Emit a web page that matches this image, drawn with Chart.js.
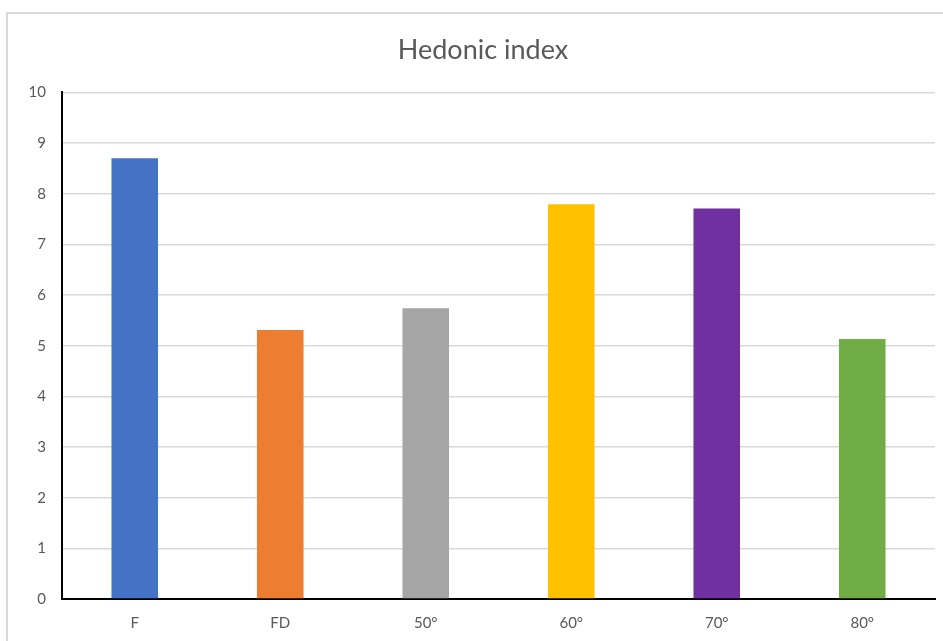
<!DOCTYPE html>
<html>
<head>
<meta charset="utf-8">
<script src="https://cdn.jsdelivr.net/npm/chart.js@4"></script>
<style>
  html, body { margin: 0; padding: 0; background: #fff; overflow: hidden; }
  #frame {
    position: absolute; left: 6px; top: 12px;
    width: 960px; height: 660px;
    border: 2px solid #d9d9d9; box-sizing: border-box;
  }
  #chart { position: absolute; left: 8px; top: 14px; }
</style>
</head>
<body>
<div id="frame"></div>
<canvas id="chart" width="950" height="640"></canvas>
<script>
const categories = ["F", "FD", "50°", "60°", "70°", "80°"];
const values = [8.7, 5.31, 5.74, 7.79, 7.71, 5.13];
const barColors = ["#4472C4", "#ED7D31", "#A5A5A5", "#FFC000", "#7030A0", "#70AD47"];
const yTicks = [0, 1, 2, 3, 4, 5, 6, 7, 8, 9, 10];

const fontFamily = "Lato, 'Open Sans', sans-serif";

new Chart(document.getElementById("chart"), {
  type: "bar",
  data: {
    labels: categories,
    datasets: [{
      label: "Hedonic index",
      data: values,
      backgroundColor: barColors,
      borderWidth: 0,
      categoryPercentage: 1,
      barPercentage: 0.32
    }]
  },
  options: {
    responsive: false,
    animation: false,
    layout: { padding: 0 },
    plugins: {
      legend: { display: false },
      tooltip: { enabled: false },
      title: {
        display: true,
        text: "Hedonic index",
        color: "#595959",
        font: { family: fontFamily, size: 27, weight: "normal" },
        padding: { top: 20, bottom: 26 }
      }
    },
    scales: {
      x: {
        grid: { display: false, drawTicks: false },
        border: { display: true, color: "#000", width: 2 },
        ticks: {
          color: "#595959",
          font: { family: fontFamily, size: 15 },
          padding: 15
        },
        afterFit: s => { s.height = 55; }
      },
      y: {
        min: 0,
        max: 10,
        afterBuildTicks: s => { s.ticks = yTicks.map(v => ({ value: v })); },
        grid: { color: "#d9d9d9", lineWidth: 1.5, drawTicks: false },
        border: { display: true, color: "#000", width: 2 },
        ticks: {
          color: "#595959",
          font: { family: fontFamily, size: 15 },
          padding: 16
        },
        afterFit: s => { s.width = 54; }
      },
      // empty spacer on the right so the title stays centred on the whole canvas
      spacer: {
        type: "linear",
        position: "right",
        grid: { display: false, drawTicks: false },
        border: { display: false },
        ticks: { display: false },
        afterFit: s => { s.width = 23; }
      }
    }
  }
});
</script>
</body>
</html>
